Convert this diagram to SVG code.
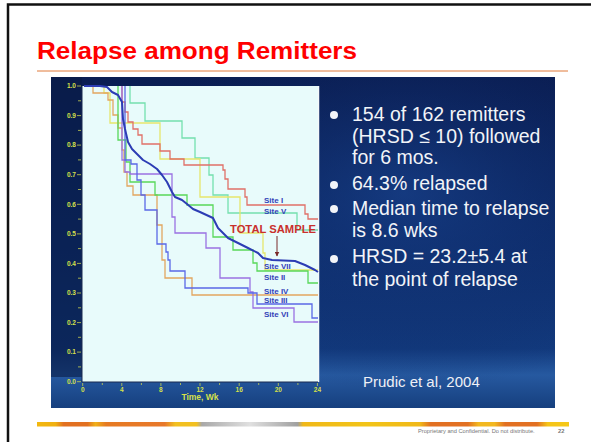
<svg xmlns="http://www.w3.org/2000/svg" width="591" height="442" viewBox="0 0 591 442">
<defs>
<linearGradient id="photo" x1="0" y1="0" x2="0" y2="1">
<stop offset="0" stop-color="#0a1d52"/>
<stop offset="0.45" stop-color="#0d2c6c"/>
<stop offset="0.82" stop-color="#123a7e"/>
<stop offset="0.9" stop-color="#2659a0"/>
<stop offset="1" stop-color="#163f7e"/>
</linearGradient>
<radialGradient id="glow" cx="0.7" cy="0.35" r="0.6">
<stop offset="0" stop-color="#1a4590" stop-opacity="0.6"/>
<stop offset="1" stop-color="#0a1d52" stop-opacity="0"/>
</radialGradient>
<linearGradient id="bar" x1="0" y1="0" x2="1" y2="0">
<stop offset="0" stop-color="#f2b810"/>
<stop offset="0.035" stop-color="#f0b010"/>
<stop offset="0.05" stop-color="#e27020"/>
<stop offset="0.095" stop-color="#e27020"/>
<stop offset="0.11" stop-color="#f0b018"/>
<stop offset="0.13" stop-color="#e67a22"/>
<stop offset="0.24" stop-color="#e8782a"/>
<stop offset="0.26" stop-color="#f2c020"/>
<stop offset="0.30" stop-color="#f2c020"/>
<stop offset="0.31" stop-color="#a8a8a8"/>
<stop offset="0.40" stop-color="#e0e0e0"/>
<stop offset="0.49" stop-color="#a0a0a0"/>
<stop offset="0.50" stop-color="#f0b818"/>
<stop offset="0.62" stop-color="#f2c418"/>
<stop offset="0.72" stop-color="#f0b818"/>
<stop offset="0.74" stop-color="#e27022"/>
<stop offset="0.81" stop-color="#e27022"/>
<stop offset="0.83" stop-color="#f2b820"/>
<stop offset="0.86" stop-color="#f2b820"/>
<stop offset="0.88" stop-color="#e27022"/>
<stop offset="0.94" stop-color="#e27022"/>
<stop offset="0.96" stop-color="#f5c418"/>
<stop offset="1" stop-color="#f5c818"/>
</linearGradient>
<marker id="arr" viewBox="0 0 10 10" refX="9" refY="5" markerWidth="5" markerHeight="5" orient="auto">
<path d="M0,0 L10,5 L0,10 z" fill="#7a2a2a"/>
</marker>
</defs>
<style>
.title{font-family:"Liberation Sans",Arial,sans-serif;font-weight:bold;font-size:23px;fill:#ff0000}
.bul{font-family:"Liberation Sans",Arial,sans-serif;font-size:19.5px;fill:#f2f4f8}
.cite{font-family:"Liberation Sans",Arial,sans-serif;font-size:15px;fill:#eef0f6}
.tick{font-family:"Liberation Sans",Arial,sans-serif;font-weight:bold;font-size:6.5px;fill:#d6e04a}
.axl{font-family:"Liberation Sans",Arial,sans-serif;font-weight:bold;font-size:8.5px;fill:#d6e04a}
.site{font-family:"Liberation Sans",Arial,sans-serif;font-weight:bold;font-size:8px;fill:#3342b8}
.tot{font-family:"Liberation Sans",Arial,sans-serif;font-weight:bold;font-size:10px;fill:#c8302c}
.foot{font-family:"Liberation Sans",Arial,sans-serif;font-size:5.7px;fill:#777}
.curve{fill:none;stroke-width:1.3;stroke-linejoin:miter}
.tk{stroke:#c8d050;stroke-width:0.8}
</style>
<rect x="0" y="0" width="591" height="442" fill="#ffffff"/>
<rect x="8" y="4.5" width="600" height="460" fill="none" stroke="#111" stroke-width="2.5"/>
<text class="title" x="37" y="59" textLength="320" lengthAdjust="spacingAndGlyphs">Relapse among Remitters</text>
<line x1="37" y1="71" x2="568" y2="71" stroke="#e07a3a" stroke-width="1"/>

<g id="photo-panel">
<rect x="51" y="77" width="504" height="331" fill="url(#photo)"/>
<rect x="51" y="77" width="504" height="331" fill="url(#glow)"/>
<rect x="51" y="77" width="31" height="300" fill="#081a44" opacity="0.6"/>
</g>

<g id="chart">
<rect x="82" y="86" width="236" height="296" fill="#e8fbfb"/>
<line x1="318.5" y1="86" x2="318.5" y2="382" stroke="#f4f8fa" stroke-width="1.5"/>
<g id="axes">
<line x1="82" y1="86" x2="82" y2="382" stroke="#1a2a50" stroke-width="1"/>
<line x1="82" y1="382" x2="318" y2="382" stroke="#1a2a50" stroke-width="1"/>
<path class="tk" d="M77,86H81M78,100.8H81M77,115.6H81M78,130.4H81M77,145.1H81M78,159.9H81M77,174.7H81M78,189.5H81M77,204.3H81M78,219.1H81M77,233.9H81M78,248.6H81M77,263.4H81M78,278.2H81M77,293H81M78,307.8H81M77,322.6H81M78,337.3H81M77,352.1H81M78,366.9H81M77,381.7H81"/>
<path class="tk" d="M82.7,383V386M102.3,383V385M121.8,383V386M141.4,383V385M160.9,383V386M180.5,383V385M200,383V386M219.6,383V385M239.2,383V386M258.7,383V385M278.3,383V386M297.9,383V385M317.4,383V386"/>
<g text-anchor="end">
<text class="tick" x="76" y="88.3">1.0</text>
<text class="tick" x="76" y="117.9">0.9</text>
<text class="tick" x="76" y="147.4">0.8</text>
<text class="tick" x="76" y="177">0.7</text>
<text class="tick" x="76" y="206.6">0.6</text>
<text class="tick" x="76" y="236.2">0.5</text>
<text class="tick" x="76" y="265.7">0.4</text>
<text class="tick" x="76" y="295.3">0.3</text>
<text class="tick" x="76" y="324.9">0.2</text>
<text class="tick" x="76" y="354.4">0.1</text>
<text class="tick" x="76" y="384">0.0</text>
</g>
<g text-anchor="middle">
<text class="tick" x="82.7" y="391.5">0</text>
<text class="tick" x="121.8" y="391.5">4</text>
<text class="tick" x="160.9" y="391.5">8</text>
<text class="tick" x="200" y="391.5">12</text>
<text class="tick" x="239.2" y="391.5">16</text>
<text class="tick" x="278.3" y="391.5">20</text>
<text class="tick" x="317.4" y="391.5">24</text>
<text class="axl" x="200" y="400">Time, Wk</text>
</g>
</g>
<g id="curves">
<path id="site-v" class="curve" stroke="#74e0ae" d="M130,86V103H145V121H182V138H195V158H209V175H213V195H228V213H297V230H318"/>
<path id="site-vii" class="curve" stroke="#e6e66c" d="M104,86V93H110V123H160V159H200V197H240V233H263V253H265V270H318"/>
<path id="site-i" class="curve" stroke="#e07068" d="M122,86V102H125V112H128V122H133V129H138V135H142V144H160V151H170V159H184V165H223V170H225V179H228V189H245V197H247V205H305V214H308V219H318"/>
<path id="site-iv" class="curve" stroke="#e2a660" d="M93,86V93H108V100H113V115H118V128H122V150H124V172H127V186H133V195H157V225H162V260H165V278H192V295H318"/>
<path id="site-ii" class="curve" stroke="#58d85a" d="M118,86V140H126V162H130V182H155V195H187V205H213V237H233V250H253V263H257V271H308V283H318"/>
<path id="site-vi" class="curve" stroke="#9a72e2" d="M122,86V160H125V172H130V174H172V217H175V233H206V248H220V278H250V292H253V308H294V322H318"/>
<path id="site-iii" class="curve" stroke="#5a68e6" d="M125,86V160H131V164H137V180H141V195H145V210H157V244H166V252H168V260H170V271H185V288H248V293H257V304H312V318H318"/>
<path id="total" fill="none" stroke="#2c3cb4" stroke-width="2" stroke-linejoin="round" d="M84,86L100,86L107,87L112,92L118,95L122,102L123,119L125,129L128,142L132,149L137,154L143,160L150,164L157,169L162,175L167,182L172,192L175,197L182,200L187,204L193,209L200,212L213,218L218,228L228,238L238,243L248,248L258,253L263,258L272,260L295,261L305,265L315,270L318,272"/>
</g>
<g id="labels">
<text class="site" x="264" y="202.5">Site I</text>
<text class="site" x="264" y="213.5">Site V</text>
<text class="tot" x="230" y="233" textLength="86" lengthAdjust="spacingAndGlyphs">TOTAL SAMPLE</text>
<line x1="277" y1="236" x2="277" y2="256" stroke="#7a2a2a" stroke-width="1" marker-end="url(#arr)"/>
<text class="site" x="264" y="268.5">Site VII</text>
<text class="site" x="264" y="279.5">Site II</text>
<text class="site" x="264" y="293.5">Site IV</text>
<text class="site" x="264" y="302.5">Site III</text>
<text class="site" x="264" y="316.5">Site VI</text>
</g>
</g>

<g id="bullets">
<circle cx="334" cy="115" r="4" fill="#f2f4f8"/>
<circle cx="334" cy="185" r="4" fill="#f2f4f8"/>
<circle cx="334" cy="209" r="4" fill="#f2f4f8"/>
<circle cx="334" cy="259" r="4" fill="#f2f4f8"/>
<text class="bul" x="352" y="121">154 of 162 remitters</text>
<text class="bul" x="352" y="143">(HRSD ≤ 10) followed</text>
<text class="bul" x="352" y="163.5">for 6 mos.</text>
<text class="bul" x="352" y="190">64.3% relapsed</text>
<text class="bul" x="352" y="214.5">Median time to relapse</text>
<text class="bul" x="352" y="237">is 8.6 wks</text>
<text class="bul" x="352" y="263">HRSD = 23.2±5.4 at</text>
<text class="bul" x="352" y="285.5">the point of relapse</text>
<text class="cite" x="363" y="387">Prudic et al, 2004</text>
</g>

<g id="footer">
<rect x="37" y="422" width="532" height="4.5" fill="url(#bar)"/>
<text class="foot" x="418" y="433">Proprietary and Confidential. Do not distribute.</text>
<text class="foot" x="558" y="433" font-weight="bold" font-size="6.3px">22</text>
</g>
</svg>
